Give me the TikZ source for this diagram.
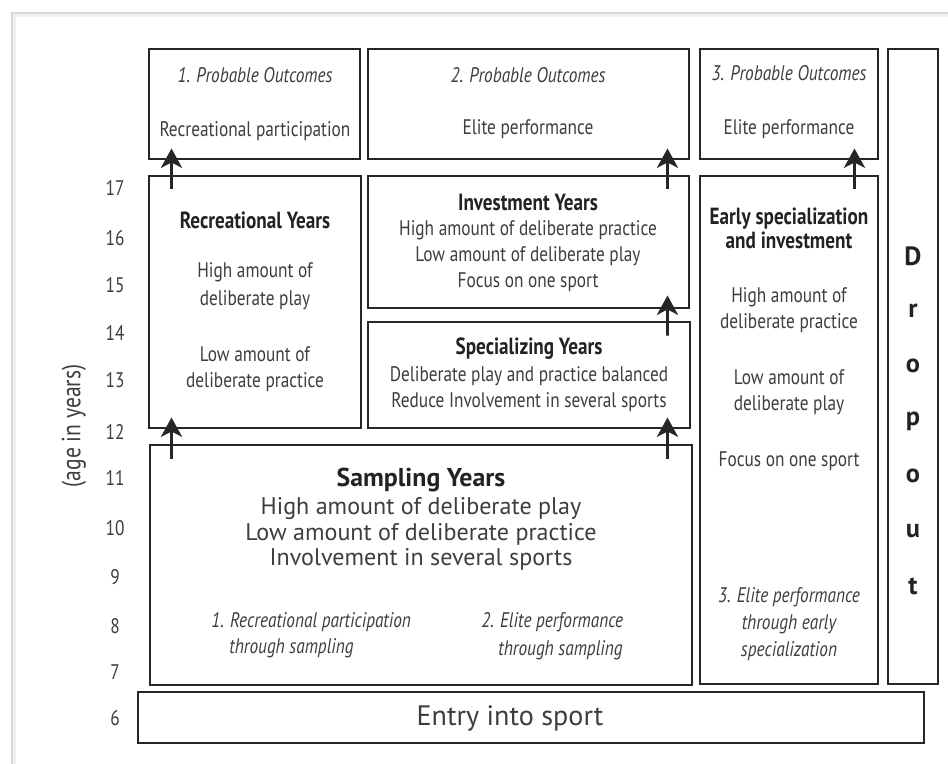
\documentclass[tikz,border=0pt]{standalone}
\usepackage{fontspec}
\setmainfont{PT Sans}
\newfontfamily\cf{PT Sans}[FakeStretch=0.82]
\usetikzlibrary{fit,arrows.meta,calc}
\definecolor{txt}{HTML}{3E3E3E}
\definecolor{hd}{HTML}{222222}
\begin{document}
\begin{tikzpicture}[x=0.02cm,y=-0.02cm,
 box/.style={draw=black!85,line width=1.7pt,inner sep=0pt},
 arr/.style={draw=black!85,line width=1.5pt,-{Stealth[length=11pt,width=12pt,inset=3pt]}},
 sm/.style={text=txt,font=\cf\fontsize{12}{15}\selectfont,align=center,inner sep=0pt},
 smi/.style={sm,font=\cf\itshape\fontsize{12}{15}\selectfont},
 hdr/.style={text=hd,font=\cf\bfseries\fontsize{13.3}{13.6}\selectfont,align=center,inner sep=0pt},
 big/.style={text=txt,font=\fontsize{13.7}{14.7}\selectfont,align=center,inner sep=0pt},
 bighd/.style={text=hd,font=\bfseries\fontsize{14.7}{15}\selectfont,inner sep=0pt},
 age/.style={text=txt,font=\cf\fontsize{12}{13}\selectfont,inner sep=0pt},
 drop/.style={text=hd,font=\bfseries\fontsize{15}{15}\selectfont,inner sep=0pt}]
\useasboundingbox (0,0) rectangle (948,764);
\fill[white] (0,0) rectangle (948,764);
\draw[gray!30,line width=1pt] (12,764) -- (12,13) -- (948,13);
\draw[gray!12,line width=2pt] (14.5,764) -- (14.5,15.5) -- (948,15.5);

% boxes
\node[box,fit={(149,49) (360,159)}] (o1) {};
\node[box,fit={(368,49) (689,159)}] (o2) {};
\node[box,fit={(700,49) (878,159)}] (o3) {};
\node[box,fit={(888,49) (938,684)}] (dropout) {};
\node[box,fit={(149,176) (361,428)}] (rec) {};
\node[box,fit={(368,176) (689,308)}] (inv) {};
\node[box,fit={(368,322) (690,428)}] (spec) {};
\node[box,fit={(150,445) (692,685)}] (samp) {};
\node[box,fit={(700,176) (878,684)}] (early) {};
\node[box,fit={(138,692) (924,743)}] (entry) {};

% outcome texts
\node[smi] (o1a) at (255,75) {1. Probable Outcomes};
\node[sm] (o1b) at (255,131) {Recreational participation};
\node[smi] (o2a) at (528,75) {2. Probable Outcomes};
\node[sm] (o2b) at (528,129) {Elite performance};
\node[smi] (o3a) at (789,73) {3. Probable Outcomes};
\node[sm] (o3b) at (789,129) {Elite performance};

% recreational
\node[hdr] (rech) at (255,220) {Recreational Years};
\node[sm,font=\cf\fontsize{12}{16}\selectfont] (recb1) at (255,286) {High amount of\\deliberate play};
\node[sm] (recb2) at (255,369) {Low amount of\\deliberate practice};

% investment
\node[hdr] (invh) at (528,202) {Investment Years};
\node[sm] (invb) at (528,256) {High amount of deliberate practice\\Low amount of deliberate play\\Focus on one sport};

% specializing
\node[hdr] (spech) at (529,349) {Specializing Years};
\node[sm] (specb) at (529,389) {Deliberate play and practice balanced\\Reduce Involvement in several sports};

% sampling
\node[bighd] (samph) at (421,480) {Sampling Years};
\node[big] (sampb) at (421,534) {High amount of deliberate play\\Low amount of deliberate practice\\Involvement in several sports};
\node[smi,anchor=west] (s1a) at (211,622) {1. Recreational participation};
\node[smi,anchor=west] (s1b) at (229,648) {through sampling};
\node[smi,anchor=west] (s2a) at (481,622) {2. Elite performance};
\node[smi,anchor=west] (s2b) at (498,650) {through sampling};

% early specialization
\node[hdr] (earlyh) at (789,228) {Early specialization\\and investment};
\node[sm] (earlyb1) at (789,310) {High amount of\\deliberate practice};
\node[sm] (earlyb2) at (789,392) {Low amount of\\deliberate play};
\node[sm] (earlyb3) at (789,461) {Focus on one sport};
\node[smi,font=\cf\itshape\fontsize{12}{15.2}\selectfont] (earlyi) at (789,624) {3. Elite performance\\through early\\specialization};

% dropout letters
\foreach \l [count=\i from 0] in {D,r,o,p,o,u,t}
  \node[drop] (dl\i) at (913,256+55*\i) {\l};

% entry
\node[text=txt,font=\fontsize{16}{17}\selectfont,inner sep=0pt] (entryt) at (510,718) {Entry into sport};

% ages
\foreach \a/\y in {17/188,16/238,15/285,14/333,13/380,12/432,11/478,10/528,9/577,8/626,7/672,6/718}
  \node[age] (age\a) at (115,\y) {\a};
\node[age,rotate=90,font=\cf\fontsize{15}{16}\selectfont] (agelbl) at (74,426) {(age in years)};

% arrows
\draw[arr] ($(rec.north west)+(24,14)$) -- ($(o1.south west)+(24,-12)$);
\draw[arr] ($(inv.north east)+(-23,14)$) -- ($(o2.south east)+(-23,-12)$);
\draw[arr] ($(early.north east)+(-25,14)$) -- ($(o3.south east)+(-25,-12)$);
\draw[arr] ($(samp.north west)+(23,15)$) -- ($(rec.south west)+(24,-12)$);
\draw[arr] ($(samp.north east)+(-26,15)$) -- ($(spec.south east)+(-24,-12)$);
\draw[arr] ($(spec.north east)+(-24,15)$) -- ($(inv.south east)+(-23,-14)$);
\end{tikzpicture}
\end{document}
